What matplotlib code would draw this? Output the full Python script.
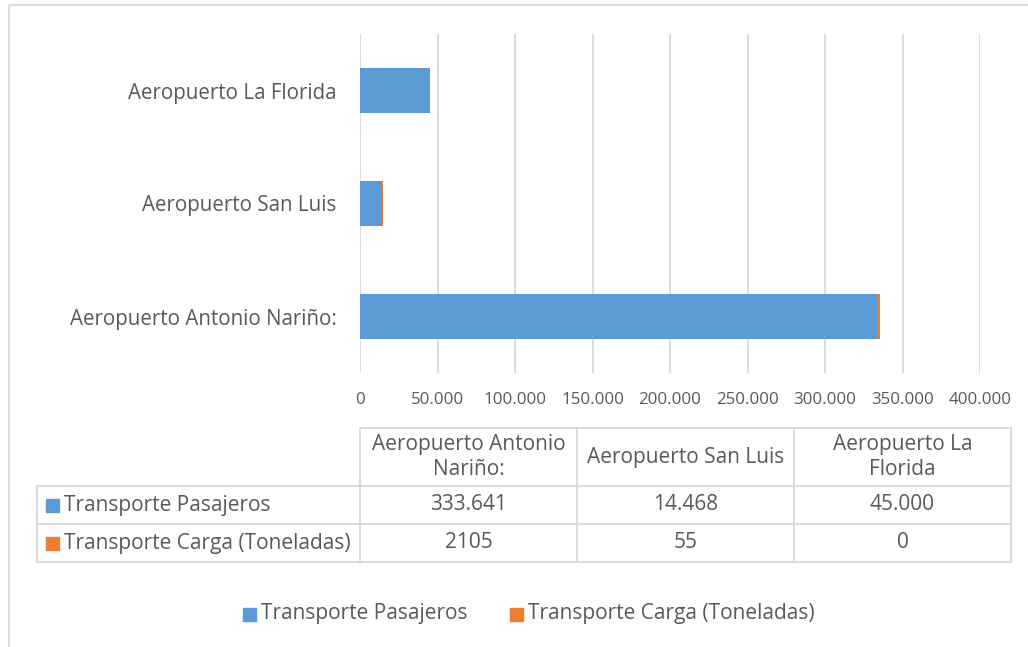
import matplotlib
matplotlib.use("Agg")
import matplotlib.pyplot as plt
from matplotlib.patches import Rectangle
from matplotlib.lines import Line2D
from matplotlib.ticker import FuncFormatter

# ---- data ----
categories = ["Aeropuerto Antonio Nariño:", "Aeropuerto San Luis", "Aeropuerto La Florida"]
table_headers = ["Aeropuerto Antonio\nNariño:", "Aeropuerto San Luis", "Aeropuerto La\nFlorida"]
series_names = ["Transporte Pasajeros", "Transporte Carga (Toneladas)"]
pasajeros = [333641, 14468, 45000]
carga = [2105, 55, 0]
pasajeros_labels = ["333.641", "14.468", "45.000"]
carga_labels = ["2105", "55", "0"]
xticks = [0, 50000, 100000, 150000, 200000, 250000, 300000, 350000, 400000]

colors = ["#5B9BD5", "#ED7D31"]
text_color = "#595959"
grid_color = "#D9D9D9"
plt.rcParams['font.family'] = ['Open Sans', 'DejaVu Sans']

W, H = 1028, 647
fig = plt.figure(figsize=(W / 100, H / 100), dpi=100)

# overlay for frame, table, legend (pixel coords)
ov = fig.add_axes([0, 0, 1, 1], zorder=0)
ov.set_xlim(0, W)
ov.set_ylim(H, 0)
ov.axis("off")

# outer chart frame
ov.add_patch(Rectangle((9, 5), 1100, 700, fill=False, edgecolor=grid_color, linewidth=1.3))

# main plot
ax = fig.add_axes([360 / W, 1 - 373 / H, (980 - 360) / W, (373 - 34) / H], zorder=1)
ax.patch.set_alpha(0)
ypos = list(range(len(categories)))
ax.barh(ypos, pasajeros, height=0.39, color=colors[0], label=series_names[0], zorder=2)
ax.barh(ypos, carga, left=pasajeros, height=0.39, color=colors[1], label=series_names[1], zorder=2)
ax.set_xlim(0, 400000)
ax.set_ylim(-0.5, 2.5)
ax.set_xticks(xticks)
ax.xaxis.set_major_formatter(FuncFormatter(lambda v, p: "0" if v == 0 else f"{int(v):,}".replace(",", ".")))
ax.set_yticks(ypos)
ax.set_yticklabels(categories)
ax.tick_params(axis="y", length=0, pad=17, labelsize=14.8, labelcolor=text_color)
ax.tick_params(axis="x", length=0, pad=14, labelsize=12.2, labelcolor=text_color)
for s in ax.spines.values():
    s.set_visible(False)
ax.grid(axis="x", color=grid_color, linewidth=1.3, zorder=0)
ax.set_axisbelow(True)

# ---- data table ----
col_x = [37, 360, 577, 794, 1011]
row_y = [428, 486, 524, 562]
lw = 1.3
ov.add_line(Line2D([col_x[1], col_x[-1]], [row_y[0], row_y[0]], color=grid_color, lw=lw))
for y in row_y[1:]:
    ov.add_line(Line2D([col_x[0], col_x[-1]], [y, y], color=grid_color, lw=lw))
ov.add_line(Line2D([col_x[0], col_x[0]], [row_y[1], row_y[-1]], color=grid_color, lw=lw))
for x in col_x[1:]:
    ov.add_line(Line2D([x, x], [row_y[0], row_y[-1]], color=grid_color, lw=lw))

fs = 15
for i, h in enumerate(table_headers):
    cx = (col_x[i + 1] + col_x[i + 2]) / 2
    ov.text(cx, (row_y[0] + row_y[1]) / 2, h, ha="center", va="center", fontsize=fs,
            color=text_color, linespacing=1.25)
rows = [pasajeros_labels, carga_labels]
for r, (name, labels) in enumerate(zip(series_names, rows)):
    cy = (row_y[r + 1] + row_y[r + 2]) / 2
    ov.add_patch(Rectangle((46, cy - 6), 13, 13, color=colors[r]))
    ov.text(64, cy, name, ha="left", va="center", fontsize=fs, color=text_color)
    for i, lab in enumerate(labels):
        cx = (col_x[i + 1] + col_x[i + 2]) / 2
        ov.text(cx, cy, lab, ha="center", va="center", fontsize=fs, color=text_color)

# ---- legend ----
leg_y = 614
leg_x = [243, 510]
for r, name in enumerate(series_names):
    ov.add_patch(Rectangle((leg_x[r], leg_y - 6), 13, 13, color=colors[r]))
    ov.text(leg_x[r] + 18, leg_y, name, ha="left", va="center", fontsize=fs, color=text_color)

fig.savefig("out.png", dpi=100)
